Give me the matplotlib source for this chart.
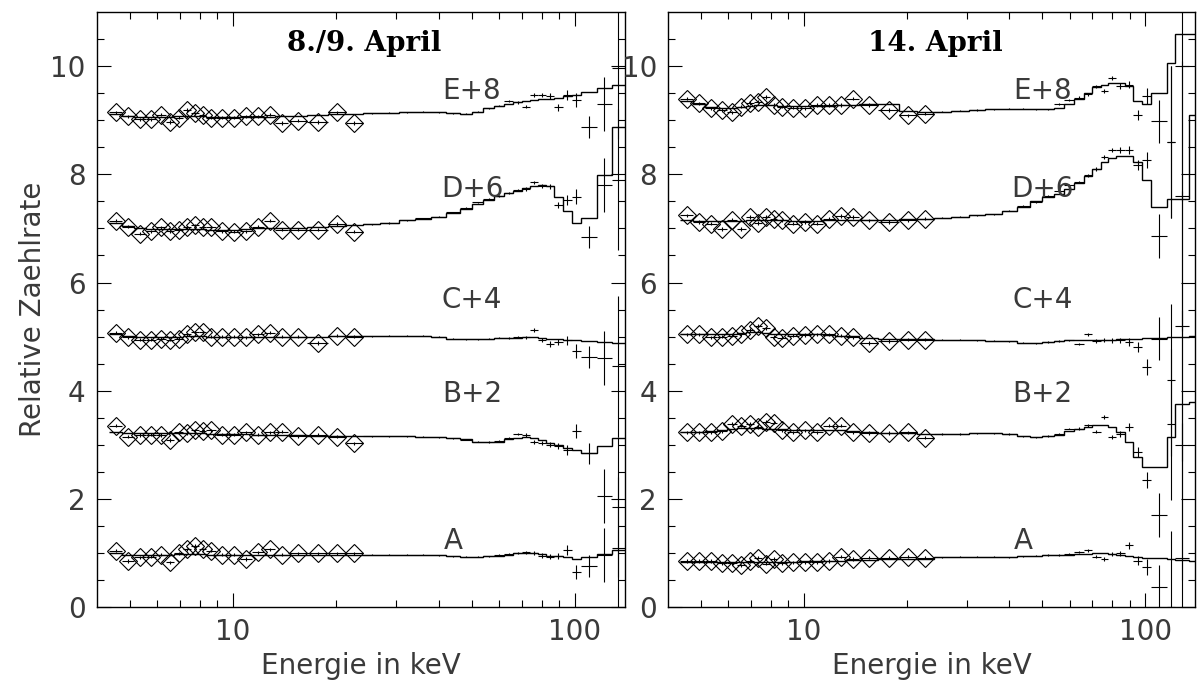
import numpy as np
import matplotlib
matplotlib.use("Agg")
import matplotlib.pyplot as plt
from matplotlib.ticker import FixedLocator, NullFormatter

nan = np.nan

# bin edges (keV)
LO_EDGES = [4.35, 4.75, 5.15, 5.57, 5.97, 6.36, 6.75, 7.15, 7.55, 7.95, 8.37,
            8.9, 9.65, 10.5, 11.4, 12.35, 13.3, 14.5, 16.5, 19.0, 21.4, 24.0]
HI_EDGES_L = [24, 27, 30.5, 34, 38, 42, 46, 50, 54, 58, 62, 66, 70, 74, 78, 82,
              87, 92, 98, 104, 116, 128, 140]
HI_EDGES_R = [24, 27, 30.5, 34, 38, 42, 46, 50, 54, 58, 62, 66, 70, 74, 78, 82,
              87, 92, 98, 104, 116, 122, 134, 140]

LABELS = ["A", "B+2", "C+4", "D+6", "E+8"]
OFFSETS = [0, 2, 4, 6, 8]
LABEL_X = [44, 50, 50, 50, 50]
LABEL_Y = [1.22, 3.94, 5.67, 7.72, 9.55]
TITLES = ["8./9. April", "14. April"]

# ---- 8./9. April (rows A..E, values before offset) ----
L_LO = [
    [1.04, 0.85, 0.92, 0.93, 0.97, 0.83, 0.99, 1.07, 1.13, 1.07, 1.04, 0.97, 0.97, 0.89, 1.01, 1.07, 0.97, 0.99, 0.99, 0.99, 0.99],
    [1.35, 1.15, 1.18, 1.19, 1.18, 1.09, 1.23, 1.22, 1.27, 1.26, 1.27, 1.19, 1.19, 1.23, 1.19, 1.23, 1.24, 1.16, 1.19, 1.15, 1.03],
    [1.07, 0.99, 0.94, 0.94, 0.96, 0.94, 0.96, 1.04, 1.08, 1.08, 1.00, 1.00, 1.00, 0.99, 1.04, 1.07, 1.00, 1.00, 0.88, 1.02, 1.00],
    [1.14, 1.03, 0.90, 0.95, 1.02, 0.95, 0.98, 1.02, 1.06, 1.03, 1.02, 0.95, 0.94, 0.95, 1.03, 1.14, 0.98, 0.98, 0.98, 1.08, 0.94],
    [1.15, 1.07, 1.02, 1.02, 1.10, 0.97, 1.05, 1.19, 1.13, 1.10, 1.05, 1.05, 1.05, 1.07, 1.07, 1.10, 0.95, 0.99, 0.97, 1.15, 0.95],
]
L_LO_MOD = [
    [0.99, 0.97, 0.97, 0.97, 0.97, 0.97, 0.98, 0.98, 0.98, 0.98, 0.97, 0.97, 0.97, 0.97, 0.97, 0.97, 0.97, 0.97, 0.97, 0.97, 0.97],
    [1.24, 1.22, 1.21, 1.21, 1.21, 1.21, 1.21, 1.21, 1.21, 1.21, 1.20, 1.20, 1.20, 1.20, 1.19, 1.19, 1.18, 1.18, 1.17, 1.17, 1.16],
    [1.05, 1.02, 1.00, 1.00, 1.00, 1.00, 1.00, 1.01, 1.01, 1.01, 1.00, 1.00, 1.00, 1.00, 1.00, 1.00, 1.00, 1.00, 1.00, 1.01, 1.01],
    [1.10, 1.04, 1.00, 0.99, 0.99, 0.99, 0.99, 0.99, 0.99, 0.99, 0.98, 0.98, 0.98, 0.99, 1.00, 1.00, 1.00, 1.01, 1.02, 1.05, 1.07],
    [1.12, 1.08, 1.06, 1.06, 1.06, 1.06, 1.07, 1.07, 1.07, 1.07, 1.06, 1.06, 1.06, 1.06, 1.06, 1.06, 1.07, 1.08, 1.09, 1.11, 1.12],
]
L_HI_MOD = [
    [0.97, 0.97, 0.97, 0.97, 0.97, 0.95, 0.93, 0.93, 0.94, 0.95, 0.97, 0.99, 1.00, 1.00, 0.98, 0.95, 0.94, 0.93, 0.88, 0.92, 0.98, 1.06],
    [1.16, 1.16, 1.16, 1.15, 1.14, 1.12, 1.10, 1.06, 1.05, 1.06, 1.10, 1.13, 1.14, 1.12, 1.08, 1.04, 1.00, 0.94, 0.90, 0.84, 0.97, 1.12],
    [1.01, 1.02, 1.02, 1.02, 1.00, 0.96, 0.95, 0.95, 0.96, 0.98, 0.98, 0.98, 0.99, 0.99, 0.98, 0.96, 0.95, 0.94, 0.93, 0.92, 0.90, 0.88],
    [1.08, 1.10, 1.15, 1.18, 1.22, 1.28, 1.36, 1.46, 1.53, 1.60, 1.66, 1.70, 1.74, 1.78, 1.80, 1.78, 1.59, 1.33, 1.10, 1.19, 1.98, 2.88],
    [1.13, 1.14, 1.15, 1.16, 1.15, 1.13, 1.12, 1.16, 1.22, 1.26, 1.30, 1.34, 1.36, 1.38, 1.39, 1.40, 1.42, 1.44, 1.47, 1.52, 1.60, 1.65],
]
L_HI = [
    [0.97, 0.97, 0.97, 0.97, 0.96, 0.94, 0.93, 0.93, 0.94, 0.96, 0.98, 1.00, 1.01, 1.00, 0.95, 0.93, 0.94, 1.05, 0.64, 0.76, 0.97, 1.10],
    [1.16, 1.16, 1.16, 1.15, 1.14, 1.12, 1.09, 1.06, 1.05, 1.07, 1.12, 1.20, 1.18, 1.05, 1.03, 1.00, 0.98, 0.90, 1.25, 0.84, 0.05, -0.15],
    [1.01, 1.02, 1.02, 1.02, 1.00, 0.96, 0.95, 0.95, 0.96, 0.98, 0.98, 0.99, 0.99, 1.12, 0.94, 0.86, 0.90, 0.93, 0.74, 0.62, 0.60, 0.45],
    [1.08, 1.10, 1.15, 1.19, 1.22, 1.30, 1.38, 1.48, 1.55, 1.60, 1.66, 1.71, 1.73, 1.85, 1.78, 1.78, 1.43, 1.53, 1.59, 0.84, 1.80, 1.90],
    [1.13, 1.14, 1.15, 1.16, 1.15, 1.13, 1.12, 1.16, 1.22, 1.27, 1.36, 1.33, 1.25, 1.47, 1.47, 1.45, 1.24, 1.47, 1.37, 0.88, 1.30, 1.96],
]
L_HI_ERR = [0.01, 0.01, 0.01, 0.01, 0.01, 0.01, 0.01, 0.012, 0.012, 0.015, 0.02,
            0.025, 0.03, 0.035, 0.04, 0.05, 0.06, 0.09, 0.13, 0.2, 0.5, 1.3]

# ---- 14. April ----
R_LO = [
    [0.85, 0.85, 0.85, 0.81, 0.81, 0.77, 0.85, 0.91, 0.80, 0.89, 0.81, 0.83, 0.83, 0.83, 0.85, 0.93, 0.89, 0.91, 0.91, 0.93, 0.91],
    [1.23, 1.23, 1.23, 1.25, 1.39, 1.35, 1.39, 1.33, 1.43, 1.41, 1.27, 1.23, 1.27, 1.23, 1.35, 1.35, 1.23, 1.22, 1.22, 1.23, 1.13],
    [1.04, 1.04, 0.99, 1.00, 1.02, 1.04, 1.12, 1.20, 1.15, 1.00, 0.98, 1.02, 1.03, 1.04, 1.04, 1.02, 0.99, 0.88, 0.92, 0.94, 0.94],
    [1.24, 1.12, 1.09, 0.99, 1.16, 0.99, 1.21, 1.10, 1.21, 1.18, 1.15, 1.09, 1.12, 1.09, 1.18, 1.23, 1.21, 1.15, 1.12, 1.15, 1.18],
    [1.40, 1.31, 1.22, 1.19, 1.15, 1.25, 1.32, 1.34, 1.43, 1.28, 1.25, 1.23, 1.22, 1.28, 1.28, 1.28, 1.40, 1.28, 1.19, 1.09, 1.12],
]
R_LO_MOD = [
    [0.84, 0.84, 0.83, 0.83, 0.83, 0.83, 0.84, 0.84, 0.84, 0.84, 0.84, 0.84, 0.85, 0.85, 0.86, 0.86, 0.87, 0.87, 0.88, 0.88, 0.89],
    [1.24, 1.24, 1.25, 1.27, 1.30, 1.31, 1.31, 1.31, 1.30, 1.30, 1.29, 1.28, 1.28, 1.28, 1.28, 1.27, 1.26, 1.24, 1.22, 1.21, 1.20],
    [1.05, 1.05, 1.04, 1.04, 1.05, 1.06, 1.08, 1.08, 1.07, 1.05, 1.04, 1.04, 1.04, 1.04, 1.03, 1.02, 1.01, 0.97, 0.96, 0.95, 0.95],
    [1.15, 1.14, 1.13, 1.13, 1.14, 1.14, 1.15, 1.15, 1.16, 1.16, 1.15, 1.14, 1.14, 1.14, 1.15, 1.16, 1.16, 1.16, 1.16, 1.17, 1.18],
    [1.36, 1.30, 1.24, 1.22, 1.22, 1.24, 1.27, 1.28, 1.28, 1.28, 1.27, 1.26, 1.26, 1.27, 1.27, 1.28, 1.29, 1.30, 1.30, 1.18, 1.15],
]
R_HI_MOD = [
    [0.92, 0.93, 0.93, 0.93, 0.92, 0.94, 0.95, 0.96, 0.96, 0.97, 0.98, 0.98, 0.99, 0.99, 0.98, 0.97, 0.95, 0.92, 0.90, 0.90, 0.89, 0.87, 0.86],
    [1.20, 1.20, 1.21, 1.21, 1.20, 1.16, 1.14, 1.16, 1.18, 1.25, 1.30, 1.33, 1.36, 1.36, 1.33, 1.24, 1.05, 0.77, 0.59, 0.59, 1.14, 1.75, 1.80],
    [0.94, 0.94, 0.93, 0.92, 0.91, 0.89, 0.88, 0.90, 0.92, 0.93, 0.93, 0.94, 0.94, 0.94, 0.94, 0.95, 0.95, 0.96, 0.97, 0.98, 0.99, 1.00, 1.01],
    [1.20, 1.22, 1.24, 1.26, 1.33, 1.40, 1.50, 1.58, 1.64, 1.72, 1.84, 1.97, 2.10, 2.22, 2.30, 2.34, 2.34, 2.22, 1.90, 1.39, 1.55, 1.55, 3.10],
    [1.16, 1.18, 1.19, 1.20, 1.21, 1.21, 1.20, 1.20, 1.22, 1.30, 1.40, 1.50, 1.62, 1.66, 1.68, 1.68, 1.64, 1.36, 1.30, 1.50, 2.05, 2.60, 2.60],
]
R_HI = [
    [0.92, 0.93, 0.93, 0.93, 0.92, 0.94, 0.95, 0.96, 0.96, 0.98, 1.02, 1.05, 0.93, 0.89, 0.98, 0.99, 1.14, 0.86, 0.74, 0.37, 0.00, 0.90, nan],
    [1.20, 1.20, 1.21, 1.21, 1.20, 1.16, 1.14, 1.16, 1.20, 1.30, 1.30, 1.36, 1.24, 1.52, 1.14, 1.20, 1.33, 0.87, 0.35, -0.30, 1.38, 1.00, nan],
    [0.94, 0.94, 0.93, 0.92, 0.91, 0.89, 0.88, 0.90, 0.92, 0.93, 0.87, 1.04, 0.92, 0.93, 0.93, 0.93, 0.90, 0.81, 0.44, 0.96, 0.20, 1.20, nan],
    [1.20, 1.22, 1.24, 1.26, 1.33, 1.42, 1.48, 1.60, 1.70, 1.80, 1.86, 1.98, 2.10, 2.32, 2.45, 2.45, 2.45, 2.17, 2.26, 0.86, 2.60, 1.60, nan],
    [1.16, 1.18, 1.19, 1.20, 1.21, 1.21, 1.20, 1.20, 1.30, 1.38, 1.42, 1.48, 1.63, 1.54, 1.78, 1.63, 1.66, 1.10, 1.45, 0.98, 0.60, 2.00, nan],
]
R_HI_ERR = [0.01, 0.01, 0.01, 0.01, 0.01, 0.01, 0.01, 0.012, 0.012, 0.015, 0.02,
            0.025, 0.03, 0.035, 0.04, 0.05, 0.07, 0.09, 0.15, 0.4, 1.4, 2.5, 0.0]

LO_ERR = 0.03
FS = 20

TXT = dict(family="DejaVu Sans", color="#3a3a3a")


def centres(edges):
    e = np.asarray(edges, float)
    c = np.sqrt(e[:-1] * e[1:])
    return c, [c - e[:-1], e[1:] - c]


def panel(ax, title, lo, lo_mod, hi_mod, hi, hi_err, hi_edges, show_ylabel):
    lo_c, lo_xerr = centres(LO_EDGES)
    hi_c, hi_xerr = centres(hi_edges)
    edges = LO_EDGES + list(hi_edges[1:])
    for i, off in enumerate(OFFSETS):
        model = np.array(lo_mod[i] + hi_mod[i]) + off
        ax.stairs(model, edges, color="k", lw=1.0, baseline=None)
        ax.errorbar(lo_c, np.array(lo[i]) + off, xerr=lo_xerr, yerr=LO_ERR,
                    fmt="none", ecolor="k", elinewidth=0.8)
        ax.plot(lo_c, np.array(lo[i]) + off, "D", ms=8.8, mfc="none",
                mec="k", mew=0.8)
        ax.errorbar(hi_c, np.array(hi[i]) + off, xerr=hi_xerr, yerr=hi_err,
                    fmt="none", ecolor="k", elinewidth=0.8)
        ax.text(LABEL_X[i], LABEL_Y[i], LABELS[i], ha="center", va="center",
                fontsize=FS, **TXT)

    ax.set_xscale("log")
    ax.set_xlim(4, 140)
    ax.set_ylim(0, 11)
    ax.xaxis.set_major_locator(FixedLocator([10, 100]))
    ax.xaxis.set_minor_locator(FixedLocator([5, 6, 7, 8, 9, 20, 30, 40, 50, 60, 70, 80, 90]))
    ax.xaxis.set_minor_formatter(NullFormatter())
    ax.set_xticklabels(["10", "100"])
    ax.yaxis.set_major_locator(FixedLocator([0, 2, 4, 6, 8, 10]))
    ax.yaxis.set_minor_locator(FixedLocator(np.arange(0, 11, 0.5)))
    ax.tick_params(which="both", direction="in", top=True, right=True,
                   width=0.8, labelsize=FS, labelcolor="#3a3a3a", pad=8)
    ax.tick_params(which="major", length=10)
    ax.tick_params(which="minor", length=5)
    for lab in ax.get_xticklabels() + ax.get_yticklabels():
        lab.set_family("DejaVu Sans")
    for sp in ax.spines.values():
        sp.set_linewidth(1.0)
    ax.set_xlabel("Energie in keV", fontsize=FS, labelpad=4, **TXT)
    if show_ylabel:
        ax.set_ylabel("Relative Zaehlrate", fontsize=FS, labelpad=2, **TXT)
    ax.text(0.507, 0.948, title, transform=ax.transAxes, ha="center", va="center",
            fontsize=20, fontweight="bold", family="DejaVu Serif")


fig = plt.figure(figsize=(11.98, 6.87), dpi=100)
ax1 = fig.add_axes([0.0807, 0.1164, 0.441, 0.866])
ax2 = fig.add_axes([0.5576, 0.1164, 0.440, 0.866])

panel(ax1, TITLES[0], L_LO, L_LO_MOD, L_HI_MOD, L_HI, L_HI_ERR, HI_EDGES_L, True)
panel(ax2, TITLES[1], R_LO, R_LO_MOD, R_HI_MOD, R_HI, R_HI_ERR, HI_EDGES_R, False)

fig.savefig("out.png", dpi=100)
